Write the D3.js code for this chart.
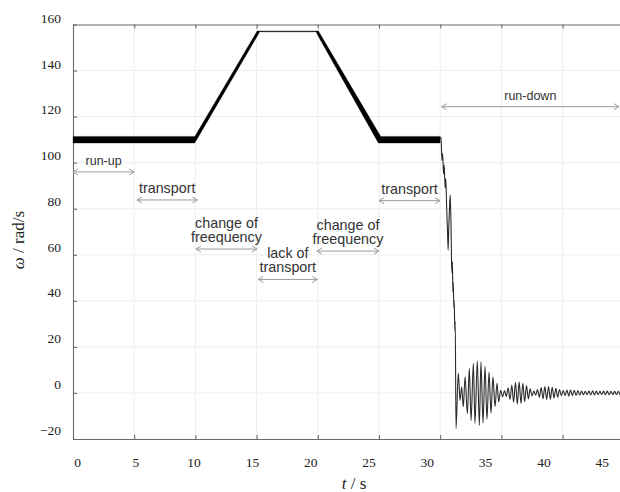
<!DOCTYPE html>
<html>
<head>
<meta charset="utf-8">
<script src="https://cdn.jsdelivr.net/npm/d3@7"></script>
<style>
  body { margin: 0; background: #fff; }
  svg { display: block; }
</style>
</head>
<body>
<div id="chart"></div>
<script>
const width = 620
const height = 492

const xTicks = [0, 5, 10, 15, 20, 25, 30, 35, 40, 45]
const yTicks = [-20, 0, 20, 40, 60, 80, 100, 120, 140, 160]

// envelope of the dense speed signal before run-down (t in s, omega in rad/s)
const bandT  = [0, 9.95, 15.05, 15.25, 19.85, 20.05, 24.95, 25.15, 30.0]
const bandHi = [111.4, 111.4, 157.2, 157.2, 157.2, 157.2, 113.1, 111.4, 111.4]
const bandLo = [108.5, 108.5, 154.9, 156.8, 156.8, 154.8, 108.5, 108.5, 108.5]

// run-down: [t, omega]
const runDown = [
  [30.0, 110.5], [30.07, 111], [30.14, 101], [30.2, 104], [30.27, 95], [30.33, 99],
  [30.4, 89], [30.46, 93], [30.53, 80], [30.6, 70], [30.65, 62], [30.7, 72],
  [30.76, 80], [30.82, 86], [30.88, 74], [30.93, 56], [30.97, 52], [31.0, 57],
  [31.03, 44], [31.07, 48], [31.11, 37], [31.15, 40], [31.19, 27], [31.23, 31],
  [31.29, -15.5], [31.48, 8.6], [31.62, -3.3], [31.75, 2.6], [31.89, -6], [32.03, 7],
  [32.22, -9], [32.38, 10.7], [32.52, -12], [32.71, 12.9], [32.84, -13.2], [33.03, 13.9],
  [33.2, -14], [33.33, 13.5], [33.5, -13], [33.66, 11.6], [33.82, -11.4], [33.99, 9.1],
  [34.15, -8.8], [34.31, 7], [34.48, -6], [34.64, 4.2], [34.78, -3.9], [34.94, 1.2],
  [35.1, -1.7], [35.25, 1.0], [35.4, -1.5], [35.55, 2.2], [35.7, -2.8], [35.85, 3.4],
  [36.0, -4.0], [36.15, 4.6], [36.3, -4.8], [36.45, 4.8], [36.6, -4.6], [36.75, 4.2],
  [36.9, -3.8], [37.05, 3.2], [37.2, -2.6], [37.35, 1.8], [37.5, -1.2], [37.65, 0.8],
  [37.8, -1.0], [37.95, 1.5], [38.1, -1.9], [38.25, 2.3], [38.4, -2.6], [38.55, 2.8],
  [38.7, -2.9], [38.85, 2.8], [39.0, -2.7], [39.15, 2.5], [39.3, -2.2], [39.45, 2.0],
  [39.6, -1.8], [39.75, 1.5], [39.9, -1.2], [40.05, 1.0], [40.2, -1.2], [40.35, 1.3],
  [40.5, -1.3], [40.65, 1.3], [40.8, -1.2], [40.95, 1.2], [41.1, -1.1], [41.25, 1.0],
  [41.4, -0.9], [41.55, 0.8], [41.7, -0.8], [41.85, 0.7], [42.0, -0.8], [42.15, 0.8],
  [42.3, -0.9], [42.45, 0.9], [42.6, -0.9], [42.75, 0.8], [42.9, -0.8], [43.05, 0.7],
  [43.2, -0.7], [43.35, 0.8], [43.5, -0.8], [43.65, 0.8], [43.8, -0.8], [43.95, 0.7],
  [44.1, -0.7], [44.25, 0.7], [44.4, -0.7], [44.55, 0.7], [44.7, -0.7], [44.85, 0.6],
  [45.0, -0.6]
]

// phase annotations: text lines, arrow span (s) and arrow level (rad/s)
const notes = [
  { lines: ['run-up'], t0: 0, t1: 5, w: 96 },
  { lines: ['transport'], t0: 5.23, t1: 10.16, w: 83.8 },
  { lines: ['change of', 'freequency'], t0: 10.05, t1: 15.03, w: 62.5 },
  { lines: ['lack of', 'transport'], t0: 15.14, t1: 19.96, w: 49.3 },
  { lines: ['change of', 'freequency'], t0: 19.93, t1: 25.0, w: 61.6 },
  { lines: ['transport'], t0: 25.0, t1: 29.98, w: 83.5 },
  { lines: ['run-down'], t0: 30.12, t1: 44.6, w: 124.3 }
]

const svg = d3.select('#chart')
    .append('svg')
    .attr('width', width)
    .attr('height', height)

const x = d3.scaleLinear().domain([0, 50]).range([73, 685])
const y = d3.scaleLinear().domain([-20, 160]).range([439, 24.5])
// tick labels in the figure sit slightly off the ticks
const xLab = d3.scaleLinear().domain([0, 45]).range([77, 601.7])
const yLab = d3.scaleLinear().domain([-20, 160]).range([430, 18])

// grid
svg.append('g')
    .selectAll('line')
    .data(xTicks.filter(d => d > 0))
    .join('line')
    .attr('x1', d => x(d)).attr('x2', d => x(d))
    .attr('y1', y(160)).attr('y2', y(-20))
    .attr('stroke', '#eeeeee')
svg.append('g')
    .selectAll('line')
    .data(yTicks.filter(d => d > -20 && d < 160))
    .join('line')
    .attr('x1', x(0)).attr('x2', width)
    .attr('y1', d => y(d)).attr('y2', d => y(d))
    .attr('stroke', '#eeeeee')

// frame with inward ticks
const axes = svg.append('g')
axes.append('g')
    .attr('transform', `translate(0,${y(-20)})`)
    .call(d3.axisBottom(x).tickValues(xTicks).tickSize(-4).tickSizeOuter(0).tickFormat(''))
axes.append('g')
    .attr('transform', `translate(0,${y(160)})`)
    .call(d3.axisTop(x).tickValues(xTicks).tickSize(-4).tickSizeOuter(0).tickFormat(''))
axes.append('g')
    .attr('transform', `translate(${x(0)},0)`)
    .call(d3.axisLeft(y).tickValues(yTicks).tickSize(-4).tickSizeOuter(0).tickFormat(''))
axes.selectAll('path, line').attr('stroke', '#6a6a6a').attr('stroke-width', 1.1)

// tick labels
const xl = svg.append('g')
    .attr('transform', 'translate(0,454)')
    .call(d3.axisBottom(xLab).tickValues(xTicks).tickSize(0).tickPadding(3))
const yl = svg.append('g')
    .attr('transform', 'translate(64,0)')
    .call(d3.axisLeft(yLab).tickValues(yTicks).tickSize(0).tickPadding(3))
xl.select('.domain').remove()
yl.select('.domain').remove()
xl.selectAll('text').attr('font-family', 'Liberation Serif, serif').attr('font-size', 13.5).attr('fill', '#222')
yl.selectAll('text').attr('font-family', 'Liberation Serif, serif').attr('font-size', 13.5).attr('fill', '#222')

// axis titles
const yt = svg.append('text')
    .attr('transform', 'translate(24,240) rotate(-90)')
    .attr('text-anchor', 'middle')
    .attr('font-family', 'Liberation Serif, serif')
    .attr('font-size', 17)
    .attr('fill', '#222')
yt.append('tspan').attr('font-style', 'italic').text('ω')
yt.append('tspan').text(' / rad/s')

const xt = svg.append('text')
    .attr('x', 354).attr('y', 489)
    .attr('text-anchor', 'middle')
    .attr('font-family', 'Liberation Serif, serif')
    .attr('font-size', 17)
    .attr('fill', '#222')
xt.append('tspan').attr('font-style', 'italic').text('t')
xt.append('tspan').text(' / s')

// speed signal
const band = bandT.map((t, i) => ({ t, hi: bandHi[i], lo: bandLo[i] }))
svg.append('path')
    .datum(band)
    .attr('fill', '#000')
    .attr('stroke', '#000')
    .attr('stroke-width', 0.3)
    .attr('d', d3.area().x(d => x(d.t)).y0(d => y(d.lo)).y1(d => y(d.hi)))

svg.append('path')
    .datum(runDown)
    .attr('fill', 'none')
    .attr('stroke', '#2a2a2a')
    .attr('stroke-width', 1.1)
    .attr('d', d3.line().x(d => x(d[0])).y(d => y(d[1])).curve(d3.curveMonotoneX))

// annotations
const ann = svg.append('g')
notes.forEach((n, i) => {
    const x0 = x(n.t0), x1 = x(n.t1), yy = y(n.w)
    const g = ann.append('g')
    g.append('path')
        .attr('fill', 'none')
        .attr('stroke', '#9a9a9a')
        .attr('stroke-width', 1)
        .attr('d', `M${x0},${yy}H${x1}M${x0 + 5},${yy - 3}L${x0},${yy}L${x0 + 5},${yy + 3}M${x1 - 5},${yy - 3}L${x1},${yy}L${x1 - 5},${yy + 3}`)
    const small = i === 0 || i === notes.length - 1
    const lh = 14.5
    n.lines.forEach((s, j) => {
        g.append('text')
            .attr('x', (x0 + x1) / 2)
            .attr('y', yy - 7 - (n.lines.length - 1 - j) * lh)
            .attr('text-anchor', 'middle')
            .attr('font-family', 'Liberation Sans, Arial, sans-serif')
            .attr('font-size', small ? 12.5 : 14.3)
            .attr('fill', '#333')
            .text(s)
    })
})
</script>
</body>
</html>
